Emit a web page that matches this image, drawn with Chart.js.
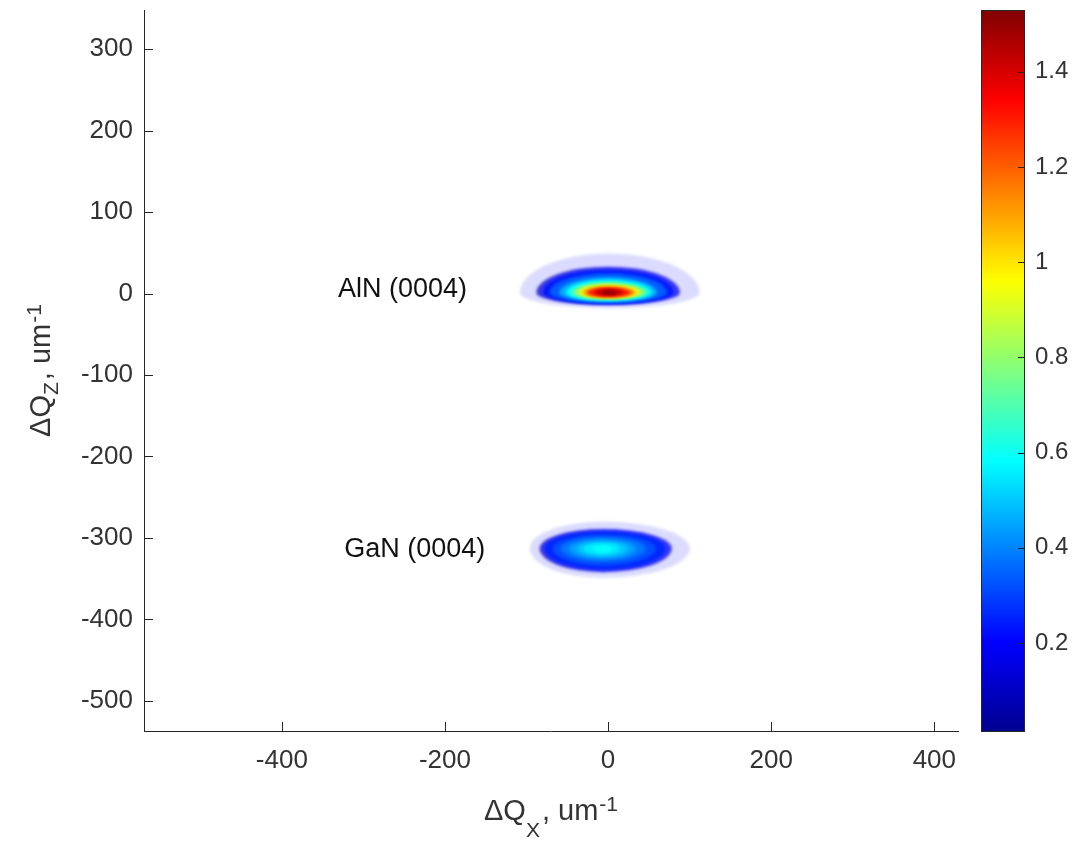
<!DOCTYPE html>
<html lang="en">
<head>
<meta charset="UTF-8">
<title>AlN / GaN (0004) reciprocal space map</title>
<script src="https://cdn.jsdelivr.net/npm/chart.js"></script>
<style>
  html, body { margin: 0; padding: 0; background: #fff; }
  #wrap { position: relative; width: 1079px; height: 843px; }
  #map { position: absolute; left: 0; top: 0; }
  #cbar { position: absolute; left: 970px; top: 0; }
</style>
</head>
<body>
<div id="wrap">
  <canvas id="map" width="1079" height="843"></canvas>
  <canvas id="cbar" width="109" height="843"></canvas>
</div>
<script>
// axis limits (um^-1) and colour limits
const xLimits = [-569, 429];
const yLimits = [-537, 348];
const cLimits = [0.013, 1.53];
const xTicks = [-400, -200, 0, 200, 400];
const yTicks = [-500, -400, -300, -200, -100, 0, 100, 200, 300];
const cTicks = [0.2, 0.4, 0.6, 0.8, 1, 1.2, 1.4];

// AlN (0004) peak: intensity levels and how far each one reaches from the centre
// (first level is the sparse halo of single counts)
const alnCentre = [0, 1];
const alnLevels = [0.2, 0.16, 0.24, 0.34, 0.46, 0.58, 0.72, 0.86, 1.0, 1.15, 1.3, 1.42, 1.5];
const alnLeft   = [108, 88, 80, 72, 60, 52, 46, 40, 35, 30, 25, 17, 9];
const alnRight  = [112, 88, 80, 72, 60, 54, 48, 42, 37, 32, 27, 19, 11];
const alnUp     = [48, 32, 28, 24, 19, 16, 13, 11, 9, 7.5, 6, 4.5, 3];
const alnDown   = [19, 15, 14, 12.5, 11, 10, 8.5, 7.5, 6.5, 6, 5, 3.5, 2.5];

// GaN (0004) peak
const ganCentre = [-6, -313];
const ganLevels = [0.2, 0.17, 0.26, 0.32, 0.38, 0.44, 0.5, 0.55, 0.59];
const ganLeft   = [90, 78, 72, 62, 52, 42, 32, 24, 13];
const ganRight  = [106, 84, 76, 64, 52, 40, 30, 20, 11];
const ganUp     = [33, 24, 21, 17, 14, 11, 8.5, 6.5, 4];
const ganDown   = [36, 29, 26, 21, 16, 13, 10, 7.5, 5];

// peak labels
const peakNames  = ['AlN (0004)', 'GaN (0004)'];
const peakLabelX = [-252, -237];
const peakLabelY = [5, -314];

const FONT = "'Liberation Sans', Arial, Helvetica, sans-serif";
const axisColor = '#262626';
const textColor = '#333333';
Chart.defaults.font.family = FONT;

// MATLAB jet colormap
const jetStops = [
    [0, [0, 0, 143]], [0.125, [0, 0, 255]], [0.375, [0, 255, 255]],
    [0.625, [255, 255, 0]], [0.875, [255, 0, 0]], [1, [128, 0, 0]]
];
function jet(v, a) {
    let t = (v - cLimits[0]) / (cLimits[1] - cLimits[0]);
    t = Math.min(1, Math.max(0, t));
    for (let i = 1; i < jetStops.length; i++) {
        if (t <= jetStops[i][0]) {
            const [t0, c0] = jetStops[i - 1];
            const [t1, c1] = jetStops[i];
            const f = (t - t0) / (t1 - t0);
            const c = c0.map((cc, k) => Math.round(cc + (c1[k] - cc) * f));
            return `rgba(${c[0]},${c[1]},${c[2]},${a === undefined ? 1 : a})`;
        }
    }
}

function drawPeak(chart, centre, levels, left, right, up, down) {
    const { ctx, scales: { x, y } } = chart;
    const cx = x.getPixelForValue(centre[0]);
    const cy = y.getPixelForValue(centre[1]);
    levels.forEach((v, i) => {
        const l = cx - x.getPixelForValue(centre[0] - left[i]);
        const r = x.getPixelForValue(centre[0] + right[i]) - cx;
        const u = cy - y.getPixelForValue(centre[1] + up[i]);
        const d = y.getPixelForValue(centre[1] - down[i]) - cy;
        ctx.beginPath();
        ctx.ellipse(cx, cy, r, u, 0, -Math.PI / 2, 0);
        ctx.ellipse(cx, cy, r, d, 0, 0, Math.PI / 2);
        ctx.ellipse(cx, cy, l, d, 0, Math.PI / 2, Math.PI);
        ctx.ellipse(cx, cy, l, u, 0, Math.PI, Math.PI * 1.5);
        ctx.closePath();
        ctx.fillStyle = i === 0 ? jet(v, 0.14) : (i === 1 ? jet(v, 0.75) : jet(v));
        ctx.fill();
    });
}

// text with sub/superscripts, parts: [text, size, shift, gapAfter]
function drawRich(ctx, parts, cx, baseY) {
    let total = 0;
    parts.forEach(p => {
        ctx.font = `${p[1]}px ${FONT}`;
        total += ctx.measureText(p[0]).width + (p[3] || 0);
    });
    let xx = cx - total / 2;
    ctx.textAlign = 'left';
    ctx.textBaseline = 'alphabetic';
    parts.forEach(p => {
        ctx.font = `${p[1]}px ${FONT}`;
        ctx.fillText(p[0], xx, baseY + p[2]);
        xx += ctx.measureText(p[0]).width + (p[3] || 0);
    });
}

const mapPlugin = {
    id: 'mapPlugin',
    beforeDatasetsDraw(chart) {
        const { ctx, chartArea: a } = chart;
        ctx.save();
        ctx.beginPath();
        ctx.rect(a.left, a.top, a.right - a.left, a.bottom - a.top);
        ctx.clip();
        ctx.filter = 'blur(1.8px)';
        drawPeak(chart, alnCentre, alnLevels, alnLeft, alnRight, alnUp, alnDown);
        drawPeak(chart, ganCentre, ganLevels, ganLeft, ganRight, ganUp, ganDown);
        ctx.restore();
    },
    afterDraw(chart) {
        const { ctx, chartArea: a, scales: { x, y } } = chart;
        ctx.save();
        // inward tick marks
        ctx.strokeStyle = axisColor;
        ctx.lineWidth = 1;
        ctx.beginPath();
        xTicks.forEach(v => {
            const px = Math.round(x.getPixelForValue(v)) + 0.5;
            ctx.moveTo(px, a.bottom);
            ctx.lineTo(px, a.bottom - 9);
        });
        yTicks.forEach(v => {
            const py = Math.round(y.getPixelForValue(v)) + 0.5;
            ctx.moveTo(a.left, py);
            ctx.lineTo(a.left + 9, py);
        });
        ctx.stroke();

        // peak labels
        ctx.fillStyle = '#111';
        ctx.font = `27px ${FONT}`;
        ctx.textAlign = 'center';
        ctx.textBaseline = 'middle';
        peakNames.forEach((n, i) => {
            ctx.fillText(n, x.getPixelForValue(peakLabelX[i]), y.getPixelForValue(peakLabelY[i]));
        });

        // axis titles
        ctx.fillStyle = textColor;
        drawRich(ctx, [['\u0394Q', 29, 0], ['X', 21, 17, 2], [', um', 29, 0, 1], ['-1', 21, -9]],
            (a.left + a.right) / 2, 820);
        ctx.translate(50, (a.top + a.bottom) / 2);
        ctx.rotate(-Math.PI / 2);
        drawRich(ctx, [['\u0394Q', 29, 0], ['Z', 21, 8, 2], [', um', 29, 0, 1], ['-1', 21, -9]], 0, 0);
        ctx.restore();
    }
};

function zeroPad(s) {
    s.paddingTop = 0; s.paddingBottom = 0; s.paddingLeft = 0; s.paddingRight = 0;
}

new Chart(document.getElementById('map'), {
    type: 'scatter',
    data: {
        datasets: [{
            data: [{ x: alnCentre[0], y: alnCentre[1] }, { x: ganCentre[0], y: ganCentre[1] }],
            pointRadius: 0
        }]
    },
    options: {
        responsive: false,
        animation: false,
        devicePixelRatio: 1,
        layout: { padding: { top: 10, right: 121, left: 0, bottom: 0 } },
        plugins: { legend: { display: false }, tooltip: { enabled: false } },
        scales: {
            x: {
                type: 'linear',
                min: xLimits[0],
                max: xLimits[1],
                grid: { display: false, drawTicks: false },
                border: { display: true, color: axisColor, width: 1 },
                ticks: { padding: 14, color: textColor, font: { size: 26 }, callback: v => v },
                afterBuildTicks: s => { s.ticks = xTicks.map(v => ({ value: v })); },
                afterFit: s => { s.height = 112; zeroPad(s); }
            },
            y: {
                type: 'linear',
                min: yLimits[0],
                max: yLimits[1],
                grid: { display: false, drawTicks: false },
                border: { display: true, color: axisColor, width: 1 },
                ticks: { padding: 11, color: textColor, font: { size: 26 }, callback: v => v },
                afterBuildTicks: s => { s.ticks = yTicks.map(v => ({ value: v })); },
                afterFit: s => { s.width = 144; zeroPad(s); }
            }
        }
    },
    plugins: [mapPlugin]
});

// colour bar
const cbarPlugin = {
    id: 'cbarPlugin',
    afterDraw(chart) {
        const { ctx, chartArea: a, scales: { y } } = chart;
        ctx.save();
        ctx.strokeStyle = axisColor;
        ctx.lineWidth = 1;
        ctx.strokeRect(a.left + 0.5, a.top + 0.5, a.right - a.left - 1, a.bottom - a.top - 1);
        ctx.beginPath();
        cTicks.forEach(v => {
            const py = Math.round(y.getPixelForValue(v)) + 0.5;
            ctx.moveTo(a.right, py);
            ctx.lineTo(a.right - 7, py);
        });
        ctx.stroke();
        ctx.restore();
    }
};

new Chart(document.getElementById('cbar'), {
    type: 'bar',
    data: {
        labels: [''],
        datasets: [{
            data: [cLimits],
            barPercentage: 1,
            categoryPercentage: 1,
            borderWidth: 0,
            backgroundColor: c => {
                const chart = c.chart;
                if (!chart.chartArea) return 'blue';
                const ys = chart.scales.y;
                const g = chart.ctx.createLinearGradient(0, ys.getPixelForValue(cLimits[0]), 0, ys.getPixelForValue(cLimits[1]));
                jetStops.forEach(s => g.addColorStop(s[0], `rgb(${s[1].join(',')})`));
                return g;
            }
        }]
    },
    options: {
        responsive: false,
        animation: false,
        devicePixelRatio: 1,
        layout: { padding: { left: 11, top: 10, bottom: 111, right: 0 } },
        plugins: { legend: { display: false }, tooltip: { enabled: false } },
        scales: {
            x: { display: false },
            y: {
                position: 'right',
                min: cLimits[0],
                max: cLimits[1],
                grid: { display: false, drawTicks: false },
                border: { display: false },
                ticks: { padding: 10, color: textColor, font: { size: 24 }, callback: v => String(v) },
                afterBuildTicks: s => { s.ticks = cTicks.map(v => ({ value: v })); },
                afterFit: s => { s.width = 54; zeroPad(s); }
            }
        }
    },
    plugins: [cbarPlugin]
});
</script>
</body>
</html>
